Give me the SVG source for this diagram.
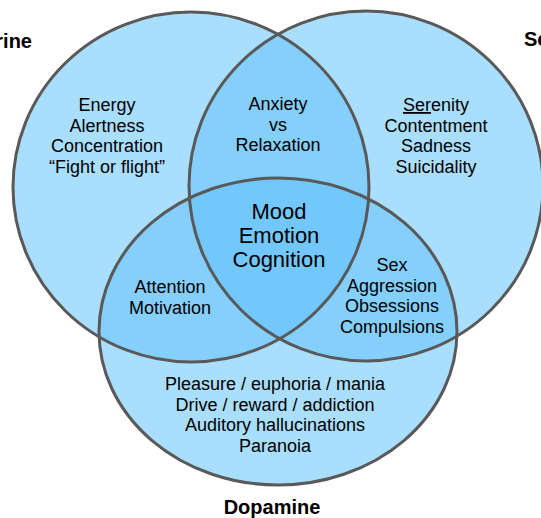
<svg xmlns="http://www.w3.org/2000/svg" width="541" height="518" viewBox="0 0 541 518">
  <style>
    .fill { fill: #65C3FC; fill-opacity: 0.55; stroke: none; }
    .outline { fill: none; stroke: #595959; stroke-width: 3; }
    .t { font-family: "Liberation Sans", Arial, sans-serif; font-size: 18px; fill: #000; text-anchor: middle; }
    .big { font-size: 22px; }
    .title { font-family: "Liberation Sans", Arial, sans-serif; font-size: 20px; font-weight: bold; fill: #000; }
  </style>
  <rect width="541" height="518" fill="#ffffff"/>

  <g id="norepinephrine">
    <ellipse class="fill" cx="191" cy="187" rx="178" ry="175"/>
    <text class="title" x="32" y="48" text-anchor="end">rine</text>
    <text class="t" x="107" y="111">Energy</text>
    <text class="t" x="107" y="131.5">Alertness</text>
    <text class="t" x="107" y="152">Concentration</text>
    <text class="t" x="107" y="172.5">“Fight or flight”</text>
  </g>

  <g id="serotonin">
    <ellipse class="fill" cx="366" cy="186" rx="177" ry="175"/>
    <text class="title" x="524" y="46">Se</text>
    <text class="t" x="436" y="111"><tspan text-decoration="underline">Ser</tspan>enity</text>
    <text class="t" x="436" y="131.5">Contentment</text>
    <text class="t" x="436" y="152">Sadness</text>
    <text class="t" x="436" y="172.5">Suicidality</text>
  </g>

  <g id="dopamine">
    <ellipse class="fill" cx="278" cy="331.5" rx="179" ry="153.5"/>
    <text class="title" x="272" y="514" text-anchor="middle">Dopamine</text>
    <text class="t" x="275" y="390">Pleasure / euphoria / mania</text>
    <text class="t" x="275" y="410.5">Drive / reward / addiction</text>
    <text class="t" x="275" y="431">Auditory hallucinations</text>
    <text class="t" x="275" y="451.5">Paranoia</text>
  </g>

  <g id="outlines">
    <ellipse class="outline" cx="191" cy="187" rx="178" ry="175"/>
    <ellipse class="outline" cx="366" cy="186" rx="177" ry="175"/>
    <ellipse class="outline" cx="278" cy="331.5" rx="179" ry="153.5"/>
  </g>

  <g id="norepinephrine-serotonin">
    <text class="t" x="278" y="110">Anxiety</text>
    <text class="t" x="278" y="130.5">vs</text>
    <text class="t" x="278" y="151">Relaxation</text>
  </g>

  <g id="norepinephrine-dopamine">
    <text class="t" x="170" y="293">Attention</text>
    <text class="t" x="170" y="314">Motivation</text>
  </g>

  <g id="serotonin-dopamine">
    <text class="t" x="392" y="271">Sex</text>
    <text class="t" x="392" y="291.5">Aggression</text>
    <text class="t" x="392" y="312">Obsessions</text>
    <text class="t" x="392" y="332.5">Compulsions</text>
  </g>

  <g id="center">
    <text class="t big" x="279" y="219">Mood</text>
    <text class="t big" x="279" y="243">Emotion</text>
    <text class="t big" x="279" y="267">Cognition</text>
  </g>
</svg>
